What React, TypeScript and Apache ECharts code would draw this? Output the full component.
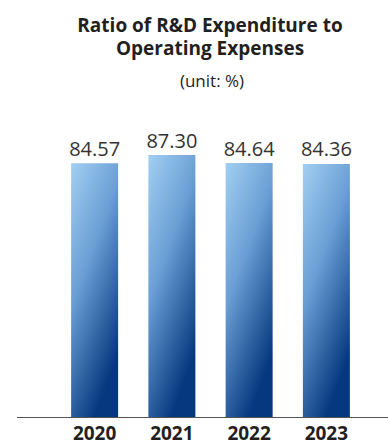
import React, { useEffect, useRef } from "react";
import * as echarts from "echarts";

const categories = ["2020", "2021", "2022", "2023"];
const values = [84.57, 87.3, 84.64, 84.36];
const titleLines = ["Ratio of R&D Expenditure to", "Operating Expenses"];
const unitText = "(unit: %)";

export default function App() {
  const ref = useRef<HTMLDivElement>(null);
  useEffect(() => {
    if (!ref.current) return;
    const chart = echarts.init(ref.current, null, { renderer: "svg" });
    const barColor = new echarts.graphic.LinearGradient(0, 0, 0.5, 1, [
      { offset: 0, color: "#a2cff1" },
      { offset: 0.45, color: "#6b9fd5" },
      { offset: 1, color: "#06387f" },
    ]);
    chart.setOption({
      animation: false,
      backgroundColor: "#ffffff",
      grid: { left: 56, right: 23, top: 117, bottom: 26 },
      xAxis: {
        type: "category",
        data: categories,
        axisLine: { show: false },
        axisTick: { show: false },
        axisLabel: {
          margin: 6,
          fontFamily: "Open Sans",
          fontWeight: 700,
          fontSize: 19,
          color: "#231f20",
        },
      },
      yAxis: {
        type: "value",
        min: 0,
        max: 100,
        show: false,
        splitLine: { show: false },
      },
      series: [
        {
          type: "bar",
          data: values,
          barWidth: 47,
          itemStyle: { color: barColor },
          label: {
            show: true,
            position: "top",
            distance: 5,
            formatter: (p: any) => Number(p.value).toFixed(2),
            fontFamily: "Open Sans",
            fontWeight: 400,
            fontSize: 20,
            color: "#333333",
          },
        },
      ],
      graphic: [
        {
          type: "text",
          x: 210,
          y: 13,
          style: {
            text: titleLines.join("\n"),
            textAlign: "center",
            textVerticalAlign: "top",
            lineHeight: 23,
            fontFamily: "Open Sans",
            fontWeight: 700,
            fontSize: 19,
            fill: "#231f20",
          },
        },
        {
          type: "text",
          x: 212,
          y: 89,
          style: {
            text: unitText,
            textAlign: "center",
            textVerticalAlign: "bottom",
            fontFamily: "Open Sans",
            fontWeight: 400,
            fontSize: 17,
            fill: "#231f20",
          },
        },
        {
          type: "line",
          shape: { x1: 17, y1: 417.5, x2: 388, y2: 417.5 },
          style: { stroke: "#555555", lineWidth: 1 },
        },
      ],
    });
    return () => chart.dispose();
  }, []);
  return (
    <div
      ref={ref}
      style={{ position: "fixed", left: 0, top: 0, width: 388, height: 443 }}
    />
  );
}
